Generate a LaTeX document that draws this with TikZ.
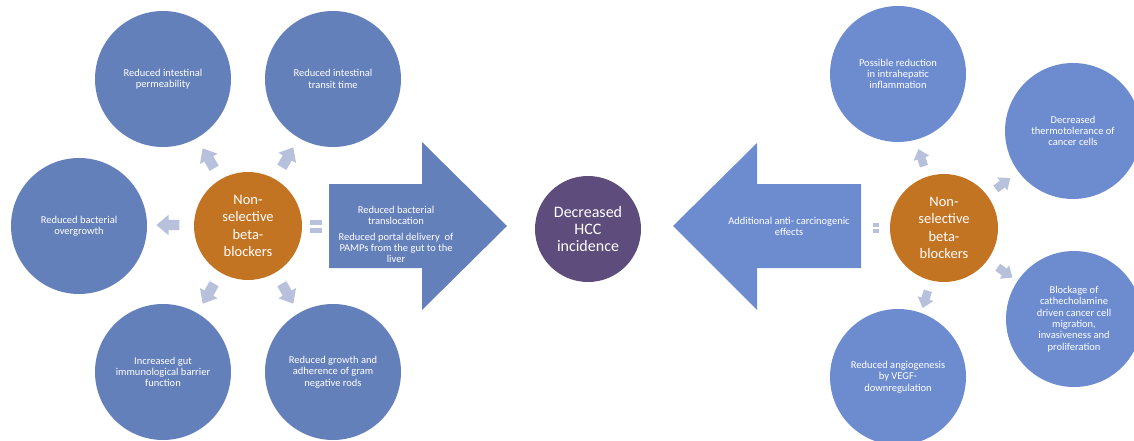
\documentclass[tikz,border=0pt]{standalone}
\usepackage{fontspec}
\setmainfont{Carlito}
\usetikzlibrary{shapes.arrows}
\definecolor{bluL}{HTML}{6480BA}
\definecolor{bluR}{HTML}{6D8CD0}
\definecolor{orng}{HTML}{C37422}
\definecolor{purp}{HTML}{5E4C7D}
\definecolor{lite}{HTML}{B7C1DC}
\tikzset{
  bigcirc/.style={circle, minimum size=136pt, inner sep=0pt, fill=#1, text=white, align=center, font=\fontsize{10.5}{11.3}\selectfont},
  nsb/.style={circle, minimum size=108pt, inner sep=0pt, fill=orng, text=white, align=center, font=\fontsize{14.5}{17.5}\selectfont},
  hcc/.style={circle, minimum size=106pt, inner sep=0pt, fill=purp, text=white, align=center, font=\fontsize{16}{17}\selectfont},
  arrtext/.style={text=white, align=center, font=\fontsize{10.5}{11}\selectfont, inner sep=0pt},
  sarrow/.style={single arrow, fill=lite, inner xsep=0pt, inner ysep=5pt, minimum height=23pt, minimum width=0pt, single arrow head extend=5pt, single arrow tip angle=80},
  sarrowR/.style={sarrow, inner ysep=4pt, minimum height=18pt, single arrow head extend=4pt},
  eqbar/.style={rectangle, fill=lite, inner sep=0pt, minimum width=#1, minimum height=5pt}
}
\begin{document}
\begin{tikzpicture}[x=1pt,y=1pt]
\clip (0,0) rectangle (1134,440);
% ---------------- left cluster
\node[nsb] (nsbL) at (248,214) {Non-\\selective\\beta-\\blockers};
\node[bigcirc=bluL] (c1) at (163,361) {Reduced intestinal\\permeability};
\node[bigcirc=bluL] (c2) at (333,361) {Reduced intestinal\\transit time};
\node[bigcirc=bluL] (c3) at (79,214) {Reduced bacterial\\overgrowth};
\node[bigcirc=bluL] (c4) at (163,68) {Increased gut\\immunological barrier\\function};
\node[bigcirc=bluL] (c5) at (333,68) {Reduced growth and\\adherence of gram\\negative rods};
\node[sarrow, rotate=120] (a1) at (210,279) {};
\node[sarrow, rotate=60]  (a2) at (286,280) {};
\node[sarrow, rotate=180] (a3) at (171,215) {};
\node[sarrow, rotate=240] (a4) at (210,149) {};
\node[sarrow, rotate=300] (a5) at (286,149) {};
\node[eqbar=12pt] (eqL1) at (316,218) {};
\node[eqbar=12pt] (eqL2) at (316,210) {};
% big right-pointing arrow
\path[fill=bluL] (329,172) -- (422,172) -- (422,130) -- (507,214) -- (422,298) -- (422,256) -- (329,256) -- cycle;
\node[arrtext] (tL) at (396,206) {Reduced bacterial\\translocation\\[5pt]Reduced portal delivery\ \ of\\PAMPs from the gut to the\\liver};
% center
\node[hcc] (hcc) at (588,211) {Decreased\\HCC\\incidence};
% ---------------- right cluster
\path[fill=bluR] (861,172) -- (757,172) -- (757,130) -- (673,214) -- (757,297) -- (757,256) -- (861,256) -- cycle;
\node[arrtext] (tR) at (789,214) {Additional anti- carcinogenic\\effects};
\node[eqbar=6pt, minimum height=4pt] (eqR1) at (876,215) {};
\node[eqbar=6pt, minimum height=4pt] (eqR2) at (876,209) {};
\node[nsb] (nsbR) at (944,212) {Non-\\selective\\beta-\\blockers};
\node[bigcirc=bluR] (r1) at (898,366) {Possible reduction\\in intrahepatic\\inflammation};
\node[bigcirc=bluR] (r2) at (1073,309) {Decreased\\thermotolerance of\\cancer cells};
\node[bigcirc=bluR] (r3) at (1074,121) {Blockage of\\cathecholamine\\driven cancer cell\\migration,\\invasiveness and\\proliferation};
\node[bigcirc=bluR] (r4) at (898,63) {Reduced angiogenesis\\by VEGF-\\downregulation};
\node[sarrowR, rotate=108] (b1) at (922,280) {};
\node[sarrowR, rotate=37]  (b2) at (1001,255) {};
\node[sarrowR, rotate=-35] (b3) at (1003,169) {};
\node[sarrowR, rotate=253] (b4) at (926,143) {};
\end{tikzpicture}
\end{document}
